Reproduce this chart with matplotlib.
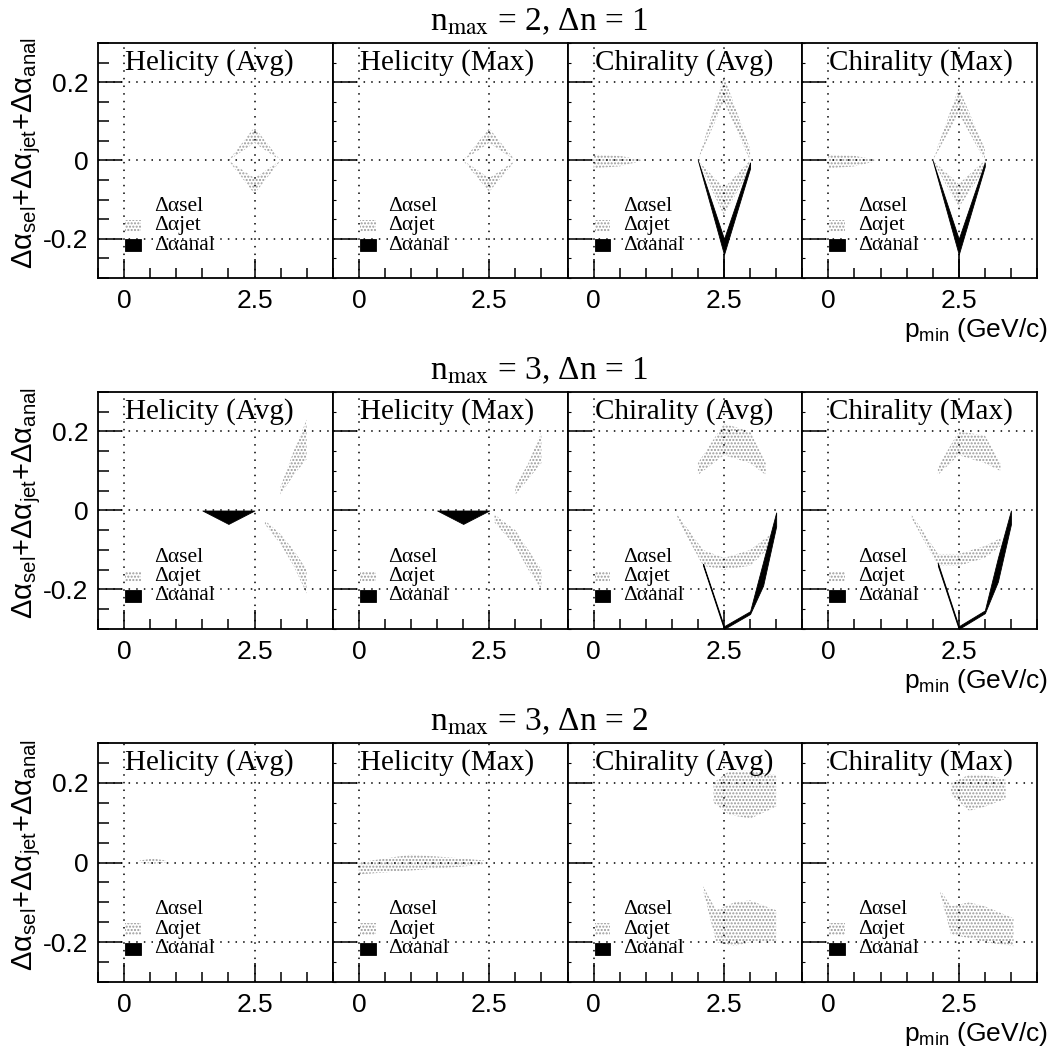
import matplotlib
matplotlib.use('Agg')
import matplotlib.pyplot as plt
from matplotlib.patches import Rectangle
from matplotlib.ticker import FixedLocator, MultipleLocator

plt.rcParams['mathtext.fontset'] = 'custom'
plt.rcParams['mathtext.rm'] = 'Liberation Sans'
plt.rcParams['mathtext.it'] = 'Liberation Sans:italic'
plt.rcParams['hatch.linewidth'] = 1.0

SANS = 'Liberation Sans'
SERIF = 'Liberation Serif'

# Textos
row_titles = ['n$_{\\mathrm{max}}$ = 2, Δn = 1',
              'n$_{\\mathrm{max}}$ = 3, Δn = 1',
              'n$_{\\mathrm{max}}$ = 3, Δn = 2']
panel_names = ['Helicity (Avg)', 'Helicity (Max)', 'Chirality (Avg)', 'Chirality (Max)']
legend_labels = ['Δαsel', 'Δαjet', 'Δαanal']
ylab = 'Δα$_{\\mathrm{sel}}$+Δα$_{\\mathrm{jet}}$+Δα$_{\\mathrm{anal}}$'
xlab = 'p$_{\\mathrm{min}}$ (GeV/c)'

# Bandas (x, y_inf, y_sup) leidas de la figura
# n_max = 2, dn = 1
h21_avg_jet = [([2.0, 2.5, 3.0], [0, 0.045, 0], [0, 0.085, 0]),
               ([2.0, 2.5, 3.0], [0, -0.085, 0], [0, -0.045, 0])]
h21_max_jet = [([2.0, 2.5, 3.0], [0, 0.045, 0], [0, 0.082, 0]),
               ([2.0, 2.5, 3.0], [0, -0.08, 0], [0, -0.045, 0])]
c21_avg_jet = [([0.0, 0.5, 0.9], [-0.02, -0.015, -0.002], [0.015, 0.012, 0.002]),
               ([2.0, 2.5, 3.0], [0, 0.15, 0.0], [0, 0.215, 0.03]),
               ([2.0, 2.5, 3.0], [0, -0.14, -0.02], [0, -0.07, 0])]
c21_max_jet = [([0.0, 0.5, 0.9], [-0.02, -0.015, -0.002], [0.015, 0.012, 0.002]),
               ([2.0, 2.5, 3.0], [0, 0.12, 0.0], [0, 0.185, 0.03]),
               ([2.0, 2.5, 3.0], [0, -0.12, -0.02], [0, -0.06, 0])]
c21_avg_anal = [([2.0, 2.5, 3.0], [0, -0.24, -0.02], [0, -0.2, -0.005])]
c21_max_anal = [([2.0, 2.5, 3.0], [0, -0.24, -0.015], [0, -0.2, -0.005])]
c21_spike = [(2.5, -0.30, -0.24)]

# n_max = 3, dn = 1
h31_anal = [([1.5, 2.0, 2.5], [0, -0.034, 0], [0, 0, 0])]
h31_avg_jet = [([3.0, 3.25, 3.5], [0.04, 0.09, 0.13], [0.06, 0.15, 0.23]),
               ([2.7, 3.0, 3.25, 3.5], [-0.035, -0.085, -0.14, -0.21], [-0.025, -0.06, -0.1, -0.15])]
h31_max_jet = [([3.0, 3.25, 3.5], [0.04, 0.08, 0.12], [0.06, 0.12, 0.2]),
               ([2.6, 3.0, 3.25, 3.5], [-0.03, -0.09, -0.15, -0.2], [-0.01, -0.05, -0.1, -0.15])]
c31_avg_jet = [([2.0, 2.5, 3.0, 3.3], [0.09, 0.14, 0.12, 0.09], [0.12, 0.22, 0.2, 0.12]),
               ([1.6, 2.1, 2.5, 3.0, 3.4], [-0.02, -0.14, -0.15, -0.14, -0.09], [-0.01, -0.1, -0.12, -0.1, -0.06])]
c31_max_jet = [([2.1, 2.5, 3.0, 3.3], [0.09, 0.14, 0.12, 0.1], [0.11, 0.2, 0.19, 0.12]),
               ([1.6, 2.1, 2.5, 3.0, 3.3], [-0.02, -0.14, -0.14, -0.12, -0.09], [-0.01, -0.11, -0.11, -0.09, -0.07])]
c31_avg_anal = [([2.1, 2.5, 3.0, 3.25, 3.5], [-0.14, -0.3, -0.262, -0.19, -0.04], [-0.135, -0.293, -0.255, -0.13, -0.005])]
c31_max_anal = [([2.1, 2.5, 3.0, 3.25, 3.5], [-0.14, -0.3, -0.26, -0.18, -0.035], [-0.133, -0.293, -0.253, -0.12, 0.0])]

# n_max = 3, dn = 2
h32_avg_jet = [([0.3, 0.55, 0.8], [0, -0.003, 0], [0.005, 0.01, 0.005])]
h32_max_jet = [([0.0, 0.5, 1.0, 1.5, 2.0, 2.4], [-0.03, -0.025, -0.02, -0.015, -0.01, -0.005],
                [0.0, 0.01, 0.02, 0.015, 0.01, 0.005])]
c32_avg_jet = [([2.3, 2.6, 3.0, 3.5], [0.15, 0.12, 0.11, 0.14], [0.2, 0.23, 0.23, 0.22]),
               ([2.1, 2.35, 2.7, 3.0, 3.5], [-0.07, -0.2, -0.21, -0.2, -0.2], [-0.06, -0.12, -0.1, -0.095, -0.12])]
c32_max_jet = [([2.35, 2.7, 3.0, 3.4], [0.17, 0.13, 0.14, 0.16], [0.2, 0.22, 0.22, 0.21]),
               ([2.15, 2.35, 2.7, 3.0, 3.55], [-0.08, -0.18, -0.19, -0.2, -0.21], [-0.07, -0.11, -0.1, -0.11, -0.14])]

panels = [
    [(h21_avg_jet, [], []), (h21_max_jet, [], []),
     (c21_avg_jet, c21_avg_anal, c21_spike), (c21_max_jet, c21_max_anal, c21_spike)],
    [(h31_avg_jet, h31_anal, []), (h31_max_jet, h31_anal, []),
     (c31_avg_jet, c31_avg_anal, []), (c31_max_jet, c31_max_anal, [])],
    [(h32_avg_jet, [], []), (h32_max_jet, [], []),
     (c32_avg_jet, [], []), (c32_max_jet, [], [])],
]

jet_style = dict(facecolor='none', edgecolor='0.6', hatch='.....', linewidth=0)
anal_style = dict(facecolor='black', edgecolor='black', linewidth=0.6)
grid_style = dict(color='black', linestyle=(0, (1, 4)), linewidth=1.1)

W, H = 1052, 1053
fig = plt.figure(figsize=(W / 100, H / 100), dpi=100)

left_px, right_px = 98, 1037
pw = (right_px - left_px) / 4
row_top = [43, 392, 743]
row_h = [235, 237, 239]

for r in range(3):
    for c in range(4):
        ax = fig.add_axes([(left_px + c * pw) / W, 1 - (row_top[r] + row_h[r]) / H,
                           pw / W, row_h[r] / H])
        ax.set_xlim(-0.5, 4.0)
        ax.set_ylim(-0.3, 0.3)
        for s in ax.spines.values():
            s.set_linewidth(1.3)

        jets, anals, spikes = panels[r][c]
        for x, lo, hi in jets:
            ax.fill_between(x, lo, hi, **jet_style)
        for x, lo, hi in anals:
            ax.fill_between(x, lo, hi, **anal_style)
        for x, lo, hi in spikes:
            ax.vlines(x, lo, hi, color='black', linewidth=1.2)

        for yv in [-0.2, 0, 0.2]:
            ax.axhline(yv, **grid_style)
        for xv in [0, 2.5]:
            ax.axvline(xv, **grid_style)

        ax.xaxis.set_major_locator(FixedLocator([0, 2.5]))
        ax.xaxis.set_minor_locator(MultipleLocator(0.5))
        ax.yaxis.set_major_locator(FixedLocator([-0.2, 0, 0.2]))
        ax.yaxis.set_minor_locator(MultipleLocator(0.05))
        ax.tick_params(axis='x', which='major', direction='in', length=14, width=1.1, pad=8,
                       top=False, labelsize=19)
        ax.tick_params(axis='x', which='minor', direction='in', length=7, width=1.1, top=False)
        ax.set_xticklabels(['0', '2.5'], fontfamily=SANS)
        ax.tick_params(axis='y', which='major', direction='in', length=17, width=1.1, pad=7,
                       right=False, labelsize=19)
        if c == 0:
            ax.tick_params(axis='y', which='minor', direction='in', length=8, width=1.1, right=False)
            ax.set_yticklabels(['-0.2', '0', '0.2'], fontfamily=SANS)
        else:
            ax.tick_params(axis='y', which='minor', direction='in', length=2, width=0.8, right=False)
            ax.set_yticklabels([])

        ax.text(0.02, 0.232, panel_names[c], fontfamily=SERIF, fontsize=21, ha='left',
                va='baseline')

        # leyenda
        ys = [-0.118, -0.167, -0.216]
        styles = [dict(facecolor='white', edgecolor='none'), jet_style, anal_style]
        for yy, lab, st in zip(ys, legend_labels, styles):
            ax.add_patch(Rectangle((0.02, yy - 0.015), 0.3, 0.03, **st))
            ax.text(0.57, yy, lab, fontfamily=SERIF, fontsize=15.5, ha='left', va='center')

    top = row_top[r]
    fig.text(539 / W, 1 - (top - 13) / H, row_titles[r], fontfamily=SERIF, fontsize=24,
             ha='center', va='baseline', math_fontfamily='stix')
    fig.text(27 / W, 1 - (top + row_h[r] / 2 - 8) / H, ylab, fontfamily=SANS, fontsize=21,
             rotation=90, ha='center', va='center')
    fig.text(1048 / W, 1 - (top + row_h[r] + 59) / H, xlab, fontfamily=SANS, fontsize=19,
             ha='right', va='baseline')

fig.savefig('out.png', dpi=100)
